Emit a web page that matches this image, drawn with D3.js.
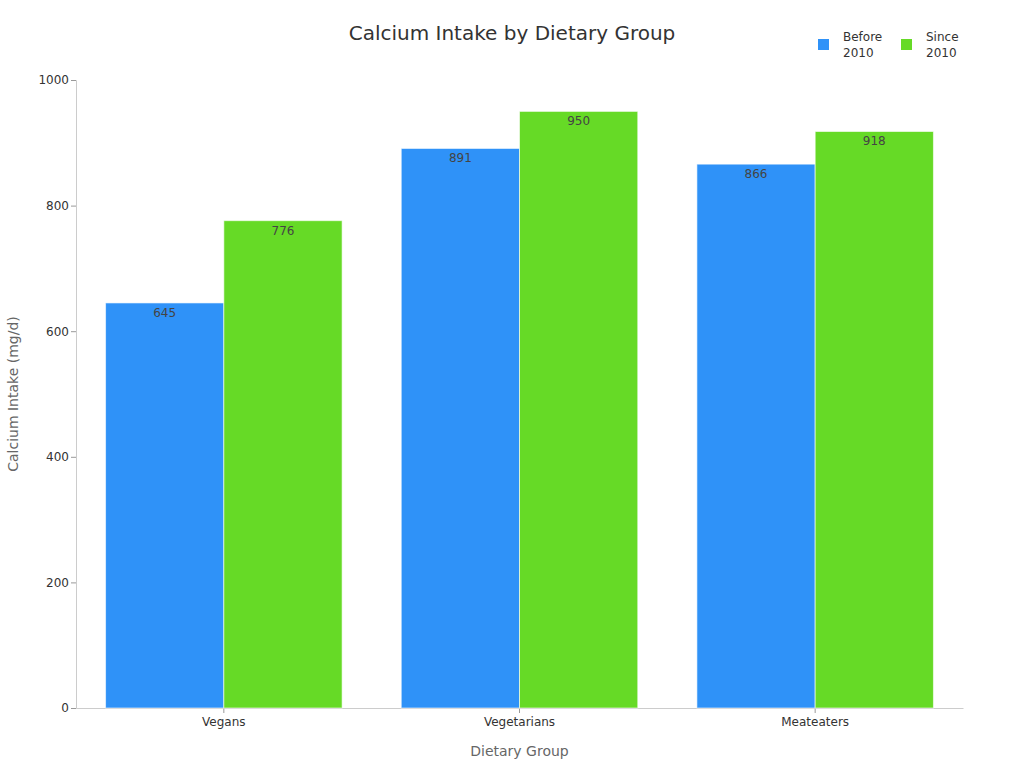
<!DOCTYPE html>
<html>
<head>
<meta charset="utf-8">
<script src="https://cdn.jsdelivr.net/npm/d3@7"></script>
<style>
  body { margin: 0; background: #fff; }
  svg, svg text { font-family: "DejaVu Sans", sans-serif; }
</style>
</head>
<body>
<div id="chart"></div>
<script>
// data
const groups = ['Vegans', 'Vegetarians', 'Meateaters'];
const seriesNames = ['Before 2010', 'Since 2010'];
const before2010 = [645, 891, 866];
const since2010 = [776, 950, 918];
const yTicks = [0, 200, 400, 600, 800, 1000];
const colors = ['#2f92f8', '#66da26'];

//dimensions
const width = 1024, height = 768;
const margin = { top: 80, right: 61, bottom: 60, left: 76 };
const graphWidth = width - margin.left - margin.right;
const graphHeight = height - margin.top - margin.bottom;

const svg = d3.select('#chart')
    .append('svg')
    .attr('width', width)
    .attr('height', height);

const graph = svg.append('g')
    .attr('transform', `translate(${margin.left}, ${margin.top})`);

//scales
const x0 = d3.scaleBand().domain(groups).range([0, graphWidth]).padding(0);
const bw = x0.bandwidth();
const x1 = d3.scaleBand().domain(seriesNames).range([bw * 0.1, bw * 0.9]).padding(0);
const y = d3.scaleLinear().domain([0, 1000]).range([graphHeight, 0]);

// rows for bars
const rows = groups.map((g, i) => ({
    group: g,
    values: [before2010[i], since2010[i]].map((v, j) => ({ key: seriesNames[j], value: v, color: colors[j] }))
}));

// axes
const yAxisGroup = graph.append('g')
    .call(d3.axisLeft(y).tickValues(yTicks).tickFormat(d3.format('d')).tickSize(5).tickPadding(2));
yAxisGroup.attr('font-family', null);
yAxisGroup.select('.domain').attr('stroke', '#ccc');
yAxisGroup.selectAll('.tick line').attr('stroke', '#999');
yAxisGroup.selectAll('.tick text').attr('fill', '#333').attr('font-size', 12);

const xAxisGroup = graph.append('g')
    .attr('transform', `translate(0, ${graphHeight})`)
    .call(d3.axisBottom(x0).tickSize(5).tickSizeOuter(0).tickPadding(4));
xAxisGroup.attr('font-family', null);
xAxisGroup.select('.domain').attr('stroke', '#ccc');
xAxisGroup.selectAll('.tick line').attr('stroke', '#999');
xAxisGroup.selectAll('.tick text').attr('fill', '#333').attr('font-size', 12);

// bars
const groupSel = graph.selectAll('.grp')
    .data(rows)
    .enter().append('g')
    .attr('class', 'grp')
    .attr('transform', d => `translate(${x0(d.group)}, 0)`);

groupSel.selectAll('rect')
    .data(d => d.values)
    .enter().append('rect')
    .attr('x', d => x1(d.key))
    .attr('y', d => y(d.value))
    .attr('width', x1.bandwidth())
    .attr('height', d => graphHeight - y(d.value))
    .attr('fill', d => d.color)
    .attr('stroke', 'rgba(255,255,255,0.6)')
    .attr('stroke-width', 1);

groupSel.selectAll('.val')
    .data(d => d.values)
    .enter().append('text')
    .attr('class', 'val')
    .attr('x', d => x1(d.key) + x1.bandwidth() / 2)
    .attr('y', d => y(d.value) + 14)
    .attr('text-anchor', 'middle')
    .attr('font-size', 12)
    .attr('fill', '#444')
    .text(d => d.value);

// title
svg.append('text')
    .attr('x', 512)
    .attr('y', 40)
    .attr('text-anchor', 'middle')
    .attr('font-size', 20)
    .attr('fill', '#333')
    .text('Calcium Intake by Dietary Group');

// axis titles
svg.append('text')
    .attr('x', margin.left + graphWidth / 2)
    .attr('y', 756)
    .attr('text-anchor', 'middle')
    .attr('font-size', 14)
    .attr('fill', '#666')
    .text('Dietary Group');

svg.append('text')
    .attr('transform', `translate(18, ${margin.top + graphHeight / 2}) rotate(-90)`)
    .attr('text-anchor', 'middle')
    .attr('font-size', 14)
    .attr('fill', '#666')
    .text('Calcium Intake (mg/d)');

// legend
const legend = svg.append('g').attr('transform', 'translate(818, 39)');
seriesNames.forEach((name, i) => {
    const item = legend.append('g').attr('transform', `translate(${i * 83}, 0)`);
    item.append('rect')
        .attr('width', 11).attr('height', 11)
        .attr('fill', colors[i]);
    const parts = name.split(' ');
    item.append('text')
        .attr('x', 25).attr('y', 2)
        .attr('font-size', 12)
        .attr('fill', '#333')
        .selectAll('tspan')
        .data(parts)
        .enter().append('tspan')
        .attr('x', 25)
        .attr('dy', (d, k) => k === 0 ? 0 : 16)
        .text(d => d);
});
</script>
</body>
</html>
